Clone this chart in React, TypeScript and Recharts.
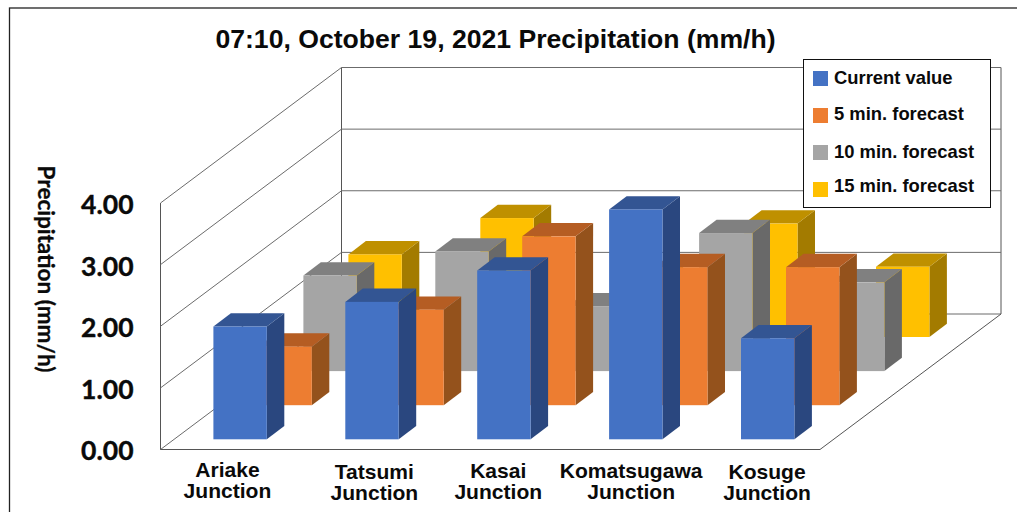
import React from "react";
import { BarChart, Bar, XAxis, YAxis, CartesianGrid, Legend } from "recharts";

const categories = ["Ariake Junction", "Tatsumi Junction", "Kasai Junction", "Komatsugawa Junction", "Kosuge Junction"];
const currentValue = [1.83, 2.23, 2.74, 3.73, 1.64];
const forecast5 = [0.95, 1.55, 2.74, 2.24, 2.24];
const forecast10 = [1.55, 1.94, 1.05, 2.24, 1.44];
const forecast15 = [1.34, 1.93, 1.0, 1.84, 1.14];
const yTicks = [0, 1, 2, 3, 4];
const title = "07:10, October 19, 2021 Precipitation (mm/h)";
const yTitle = "Precipitation (mm/h)";

const data = categories.map((category, i) => ({
  category,
  current: currentValue[i],
  f5: forecast5[i],
  f10: forecast10[i],
  f15: forecast15[i],
}));

// layout and style, kept apart from the data
const WALL_DX = 181;
const WALL_DY = 135.5;
const ROW_DX = 45;
const ROW_DY = 34.1;
const FRONT_DX = 13.9;
const FRONT_DY = 10.2;
const SIDE_DX = 17.5;
const SIDE_DY = 13.3;
const tickDx = [1, 16, 8, 9, 13];
const tickY = [477, 478.5, 477.5, 477.5, 478.5];
const legendTextNudge = [-1, -2, -1, -3.5];
const ARIAL = "'Liberation Sans', Arial, sans-serif";
const CALIBRI = "Lato, Carlito, sans-serif";

const series = [
  { key: "f15", name: "15 min. forecast", row: 3, front: "#FFC000", top: "#BF9000", side: "#A37B00", axis: "x3" },
  { key: "f10", name: "10 min. forecast", row: 2, front: "#A5A5A5", top: "#808080", side: "#696969", axis: "x2" },
  { key: "f5", name: "5 min. forecast", row: 1, front: "#ED7D31", top: "#B55D23", side: "#94521C", axis: "x1" },
  { key: "current", name: "Current value", row: 0, front: "#4472C4", top: "#335593", side: "#2A477F", axis: "x0" },
];

const makeShape = (s: (typeof series)[number]) => (p: any) => {
  const x = p.x + FRONT_DX + s.row * ROW_DX;
  const y = p.y - FRONT_DY - s.row * ROW_DY;
  const w = p.width;
  const h = p.height;
  return (
    <g>
      <polygon
        points={`${x + w},${y} ${x + w + SIDE_DX},${y - SIDE_DY} ${x + w + SIDE_DX},${y + h - SIDE_DY} ${x + w},${y + h}`}
        fill={s.side}
      />
      <polygon
        points={`${x},${y} ${x + SIDE_DX},${y - SIDE_DY} ${x + w + SIDE_DX},${y - SIDE_DY} ${x + w},${y}`}
        fill={s.top}
      />
      <rect x={x} y={y} width={w} height={h} fill={s.front} />
    </g>
  );
};

const gridLine = (p: any) => {
  const { x1, x2, y1, y, height, index } = p;
  const isFloor = Math.abs(y1 - (y + height)) < 0.5;
  const stroke = "#6b6b6b";
  return (
    <g key={`wall-${index}`} fill="none" stroke={stroke} strokeWidth={1}>
      <polyline points={`${x1},${y1} ${x1 + WALL_DX},${y1 - WALL_DY} ${x2 + WALL_DX},${y1 - WALL_DY}`} />
      {isFloor && (
        <>
          <polyline
            points={`${x1},${y} ${x1},${y1} ${x2},${y1} ${x2 + WALL_DX},${y1 - WALL_DY} ${x2 + WALL_DX},${y - WALL_DY}`}
            stroke="#555"
          />
          <line x1={x1 + WALL_DX} y1={y - WALL_DY} x2={x1 + WALL_DX} y2={y1 - WALL_DY} stroke="#555" />
        </>
      )}
    </g>
  );
};

const XTick = (p: any) => {
  const [a, b] = String(p.payload.value).split(" ");
  const i = p.payload.index;
  const cx = p.x + tickDx[i];
  const y = tickY[i];
  return (
    <text
      transform={`translate(${cx},${y}) scale(1.08,1)`}
      textAnchor="middle"
      fontFamily={ARIAL}
      fontWeight={700}
      fontSize={19.5}
      fill="#0a0a0a"
    >
      <tspan x={0} y={0}>{a}</tspan>
      <tspan x={0} y={21.5}>{b}</tspan>
    </text>
  );
};

const LegendBox = (p: any) => {
  const rowOf = (it: any) => series.find((s) => s.name === it.value)?.row ?? 0;
  const items = [...(p.payload || [])].sort((a: any, b: any) => rowOf(a) - rowOf(b));
  return (
    <div style={{ position: "relative", width: 186, height: 147, background: "#fff", border: "1.3px solid #111" }}>
      {items.map((it: any, i: number) => (
        <div key={it.value}>
          <div style={{ position: "absolute", left: 9, top: 11 + i * 37, width: 15, height: 15, background: it.color }} />
          <div
            style={{
              position: "absolute",
              left: 30,
              top: 8.5 + i * 37 + legendTextNudge[i],
              whiteSpace: "nowrap",
              font: `700 18.4px/20px ${ARIAL}`,
              color: "#0a0a0a",
            }}
          >
            {it.value}
          </div>
        </div>
      ))}
    </div>
  );
};

export default function App() {
  return (
    <div style={{ position: "absolute", left: 0, top: 0, width: 1017, height: 512, background: "#fff" }}>
      <BarChart
        width={1017}
        height={512}
        data={data}
        barSize={53.4}
        margin={{ top: 203, right: 197, bottom: 22.5, left: 60 }}
      >
        <rect x={9.5} y={8} width={1100} height={600} fill="none" stroke="#222" strokeWidth={1.3} />
        <text x={495.5} y={47.5} textAnchor="middle" fontFamily={ARIAL} fontWeight={700} fontSize={26.6} fill="#0a0a0a">
          {title}
        </text>
        <CartesianGrid vertical={false} horizontal={gridLine} />
        <XAxis
          xAxisId="x0"
          dataKey="category"
          height={40}
          axisLine={false}
          tickLine={false}
          interval={0}
          tick={<XTick />}
        />
        <XAxis xAxisId="x1" dataKey="category" hide />
        <XAxis xAxisId="x2" dataKey="category" hide />
        <XAxis xAxisId="x3" dataKey="category" hide />
        <YAxis
          width={100.5}
          domain={[0, 4]}
          ticks={yTicks}
          interval={0}
          axisLine={false}
          tickLine={false}
          tickMargin={21}
          tickFormatter={(v: number) => v.toFixed(2)}
          tick={{ fontFamily: CALIBRI, fontWeight: 700, fontSize: 26.5, fill: "#0a0a0a", stroke: "#0a0a0a", strokeWidth: 0.4, dy: 1.5 }}
          label={{
            content: () => (
              <text
                transform="translate(38,269) rotate(90)"
                textAnchor="middle"
                fontFamily={CALIBRI}
                fontWeight={700}
                fontSize={22.5}
                fill="#0a0a0a"
                stroke="#0a0a0a"
                strokeWidth={0.3}
              >
                {yTitle}
              </text>
            ),
          }}
        />
        {series.map((s) => (
          <Bar
            key={s.key}
            dataKey={s.key}
            name={s.name}
            xAxisId={s.axis}
            fill={s.front}
            shape={makeShape(s)}
            isAnimationActive={false}
          />
        ))}
        <Legend
          layout="vertical"
          align="center"
          verticalAlign="middle"
          content={<LegendBox />}
          wrapperStyle={{ left: 803, top: 59, width: 189, height: 150 }}
        />
      </BarChart>
    </div>
  );
}
